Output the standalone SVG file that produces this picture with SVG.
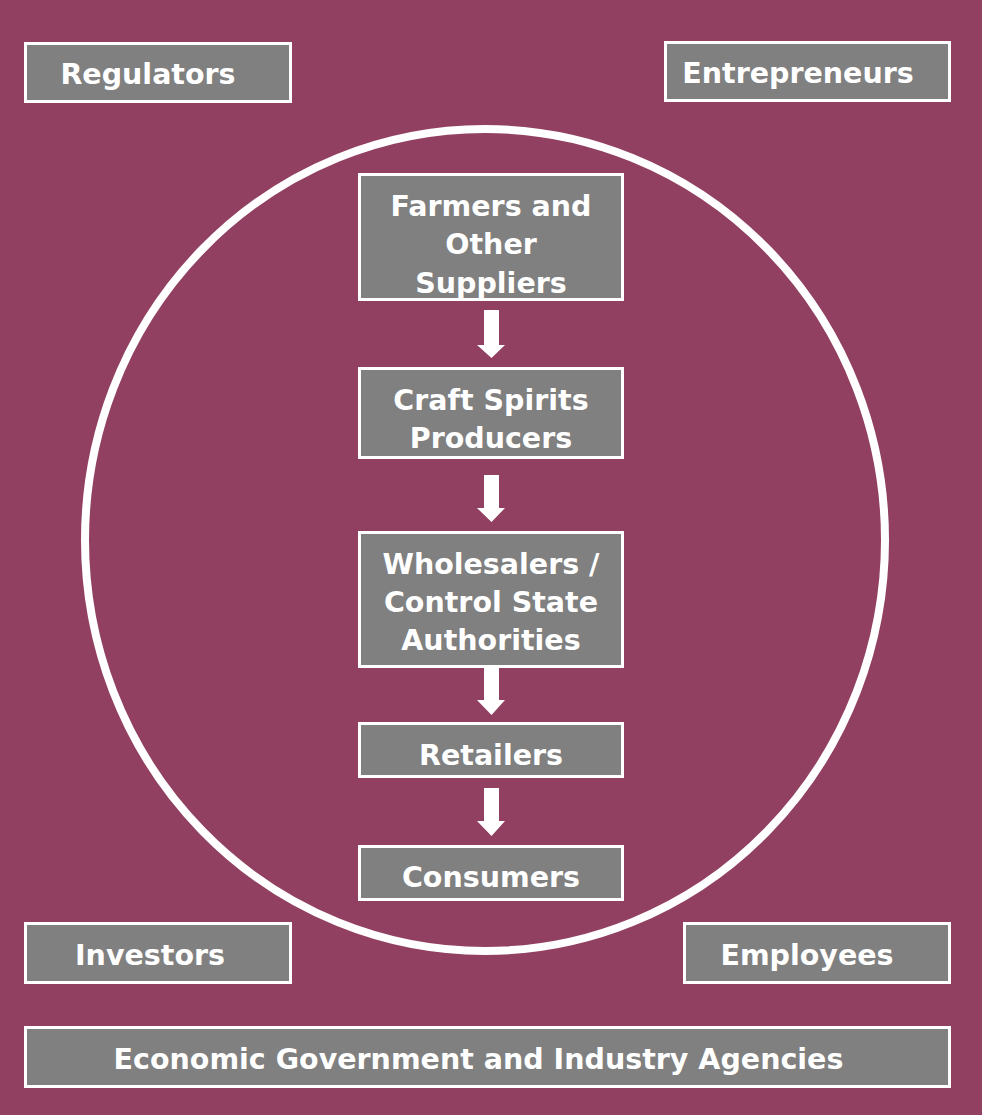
<svg xmlns="http://www.w3.org/2000/svg" width="982" height="1115" viewBox="0 0 982 1115">
<style>
.box{fill:#808080;stroke:#ffffff;stroke-width:3}
.t{font-family:"DejaVu Sans",Verdana,sans-serif;font-weight:bold;font-size:28.5px;fill:#ffffff;text-anchor:middle}
.arr{fill:#ffffff}
</style>
<rect x="0" y="0" width="982" height="1115" fill="#924062"/>
<ellipse cx="485" cy="540" rx="400" ry="411" fill="none" stroke="#ffffff" stroke-width="8"/>
<g id="regulators"><rect class="box" x="25.5" y="43.5" width="265" height="58"/><text class="t" x="148" y="84">Regulators</text></g>
<g id="entrepreneurs"><rect class="box" x="665.5" y="42.5" width="284" height="58"/><text class="t" x="798" y="83">Entrepreneurs</text></g>
<g id="farmers"><rect class="box" x="359.5" y="174.5" width="263" height="125"/><text class="t" x="491" y="216">Farmers and</text><text class="t" x="491" y="254">Other</text><text class="t" x="491" y="293">Suppliers</text></g>
<g id="craft"><rect class="box" x="359.5" y="368.5" width="263" height="89"/><text class="t" x="491" y="410">Craft Spirits</text><text class="t" x="491" y="448">Producers</text></g>
<g id="wholesalers"><rect class="box" x="359.5" y="532.5" width="263" height="134"/><text class="t" x="491" y="574">Wholesalers /</text><text class="t" x="491" y="612">Control State</text><text class="t" x="491" y="650">Authorities</text></g>
<g id="retailers"><rect class="box" x="359.5" y="723.5" width="263" height="53"/><text class="t" x="491" y="765">Retailers</text></g>
<g id="consumers"><rect class="box" x="359.5" y="846.5" width="263" height="53"/><text class="t" x="491" y="887">Consumers</text></g>
<g id="investors"><rect class="box" x="25.5" y="923.5" width="265" height="59"/><text class="t" x="150" y="965">Investors</text></g>
<g id="employees"><rect class="box" x="684.5" y="923.5" width="265" height="59"/><text class="t" x="807" y="965">Employees</text></g>
<g id="agencies"><rect class="box" x="25.5" y="1027.5" width="924" height="59"/><text class="t" x="478.5" y="1069">Economic Government and Industry Agencies</text></g>
<g id="connectors">
<path class="arr" d="M484 310 H499 V345 H505 L491.5 358 L477 345 H484 Z"/>
<path class="arr" d="M484 475 H499 V508 H505 L491.5 522 L477 508 H484 Z"/>
<path class="arr" d="M484 668 H499 V700 H505 L491.5 715 L477 700 H484 Z"/>
<path class="arr" d="M484 788 H499 V821 H505 L491.5 836 L477 821 H484 Z"/>
</g>
</svg>
